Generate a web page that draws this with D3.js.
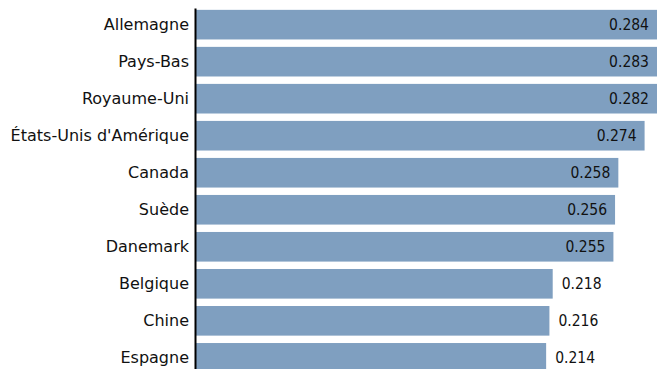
<!DOCTYPE html>
<html>
<head>
<meta charset="utf-8">
<script src="https://cdn.jsdelivr.net/npm/d3@7"></script>
<style>
  html, body { margin: 0; padding: 0; background: #fff; }
  svg { display: block; }
  text { fill: #111; }
  .val { font-family: "DejaVu Sans Condensed", "DejaVu Sans", sans-serif; font-stretch: condensed; }
  .tick text { font-family: "DejaVu Sans", sans-serif; }
</style>
</head>
<body>
<svg id="chart" width="657" height="369"></svg>
<script>
// Countries, top to bottom, and their index values
const countries = ["Allemagne", "Pays-Bas", "Royaume-Uni", "États-Unis d'Amérique", "Canada",
                   "Suède", "Danemark", "Belgique", "Chine", "Espagne"];
const values = [0.284, 0.283, 0.282, 0.274, 0.258, 0.256, 0.255, 0.218, 0.216, 0.214];
const valueLabels = ["0.284", "0.283", "0.282", "0.274", "0.258", "0.256", "0.255", "0.218", "0.216", "0.214"];

const W = 657, H = 369;
const left = 195;
const plotW = W - left;

const svg = d3.select("#chart");
const g = svg.append("g").attr("transform", `translate(${left},0)`);

const x = d3.scaleLinear().domain([0, 0.284]).range([0, 466]);
const y = d3.scaleBand().domain(countries).range([8, 374.5])
  .paddingInner(0.2).paddingOuter(0.05);

const data = countries.map((c, i) => ({ c, v: values[i], label: valueLabels[i] }));

g.selectAll("rect.bar").data(data).join("rect")
  .attr("class", "bar")
  .attr("x", 1)
  .attr("y", d => y(d.c))
  .attr("width", d => x(d.v) - 1)
  .attr("height", y.bandwidth())
  .attr("fill", "#7f9fc0");

// Value labels: inside the bar end for long bars, just past it for short ones
const inside = d => d.v > 0.24;
g.selectAll("text.val").data(data).join("text")
  .attr("class", "val")
  .attr("x", d => inside(d) ? Math.min(x(d.v), plotW) - 8 : x(d.v) + 9)
  .attr("y", d => y(d.c) + y.bandwidth() / 2)
  .attr("dy", "0.36em")
  .attr("text-anchor", d => inside(d) ? "end" : "start")
  .style("font-size", "15.5px")
  .text(d => d.label);

// Category axis
const axis = g.append("g")
  .call(d3.axisLeft(y).tickSize(0).tickPadding(6));
axis.select(".domain").attr("stroke", "#000").attr("stroke-width", 2);
axis.selectAll(".tick text")
  .style("font-size", "16px")
  .attr("fill", "#111")
  .attr("font-family", null);
</script>
</body>
</html>
